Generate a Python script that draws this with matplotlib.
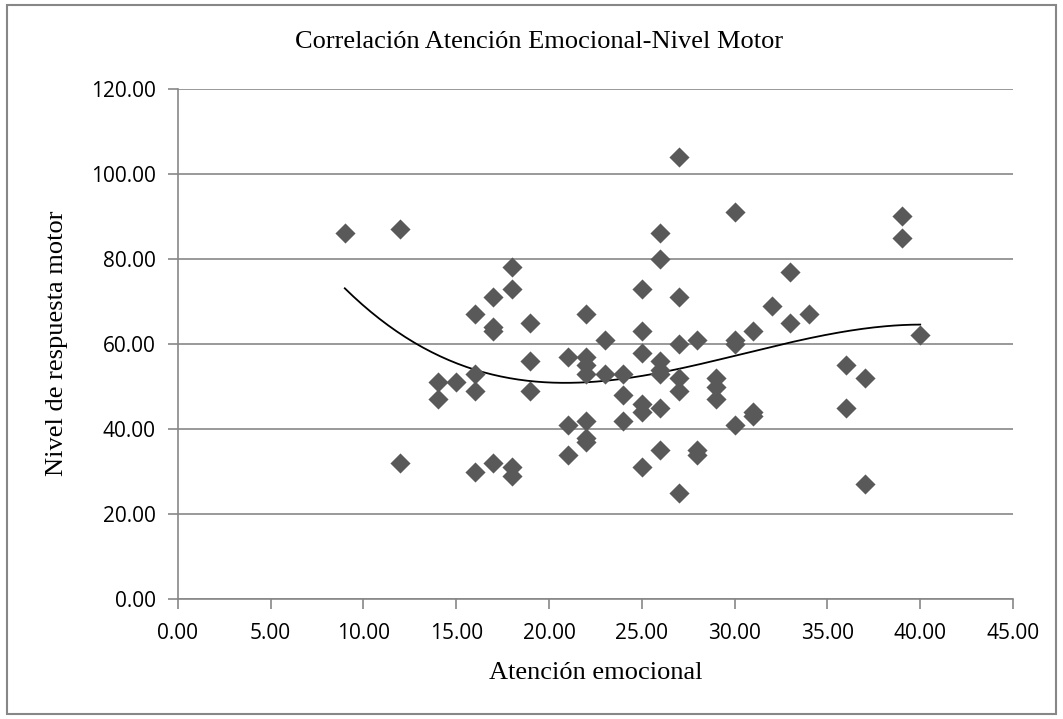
import matplotlib.pyplot as plt
import numpy as np
from matplotlib.patches import Rectangle

# puntajes: atencion emocional (x) y nivel de respuesta motor (y)
atencion = [9, 12, 12, 14, 14, 15, 16, 16, 16, 16,
            17, 17, 17, 17, 18, 18, 18, 18, 19, 19,
            19, 21, 21, 21, 22, 22, 22, 22, 22, 22,
            22, 23, 23, 24, 24, 24, 25, 25, 25, 25,
            25, 25, 26, 26, 26, 26, 26, 26, 26, 27,
            27, 27, 27, 27, 27, 28, 28, 28, 29, 29,
            29, 30, 30, 30, 30, 31, 31, 31, 32, 33,
            33, 34, 36, 36, 37, 37, 39, 39, 40]
motor = [86, 87, 32, 51, 47, 51, 67, 53, 49, 30,
         71, 64, 63, 32, 78, 73, 31, 29, 65, 56,
         49, 57, 41, 34, 67, 57, 55, 53, 42, 38,
         37, 61, 53, 53, 48, 42, 73, 63, 58, 46,
         44, 31, 86, 80, 56, 54, 53, 45, 35, 104,
         71, 60, 52, 49, 25, 61, 35, 34, 52, 50,
         47, 91, 61, 60, 41, 63, 44, 43, 69, 77,
         65, 67, 55, 45, 52, 27, 90, 85, 62]

x_ticks = np.arange(0, 46, 5)
y_ticks = np.arange(0, 121, 20)

titulo = "Correlación Atención Emocional-Nivel Motor"
etiqueta_x = "Atención emocional"
etiqueta_y = "Nivel de respuesta motor"

serif = "Liberation Serif"
sans = "Open Sans"
gris = "#878787"

fig = plt.figure(figsize=(10.63, 7.19), dpi=100)
fig.patches.append(Rectangle((0.007, 0.007), 0.986, 0.986, transform=fig.transFigure,
                             fill=False, edgecolor=gris, linewidth=1.5))

ax = fig.add_axes([0.1672, 0.1665, 0.7858, 0.7101])

x = np.array(atencion, dtype=float)
y = np.array(motor, dtype=float)

# linea de tendencia polinomica de orden 3
coef = np.polyfit(x, y, 3)
xs = np.linspace(x.min(), x.max(), 200)
ax.plot(xs, np.polyval(coef, xs), color="black", linewidth=1.3, zorder=3)

ax.scatter(x, y, marker="D", s=105, color="#595959", linewidths=0, zorder=4)

ax.set_xlim(0, 45)
ax.set_ylim(0, 120)
ax.set_xticks(x_ticks)
ax.set_yticks(y_ticks)
ax.set_xticklabels(["%.2f" % v for v in x_ticks], fontsize=15, family=sans)
ax.set_yticklabels(["%.2f" % v for v in y_ticks], fontsize=15, family=sans)
ax.tick_params(axis="both", direction="out", length=7, width=1.2, color=gris)
ax.tick_params(axis="x", pad=10)
ax.tick_params(axis="y", pad=9)

ax.yaxis.grid(True, color=gris, linewidth=1.2)
ax.set_axisbelow(True)
for lado in ["top", "right"]:
    ax.spines[lado].set_visible(False)
for lado in ["left", "bottom"]:
    ax.spines[lado].set_color(gris)
    ax.spines[lado].set_linewidth(1.2)

fig.text(0.507, 0.942, titulo, ha="center", va="center", fontsize=19, family=serif)
fig.text(0.560, 0.064, etiqueta_x, ha="center", va="center", fontsize=19, family=serif)
fig.text(0.054, 0.522, etiqueta_y, ha="center", va="center", rotation=90, fontsize=19, family=serif)

fig.savefig("out.png", dpi=100)
